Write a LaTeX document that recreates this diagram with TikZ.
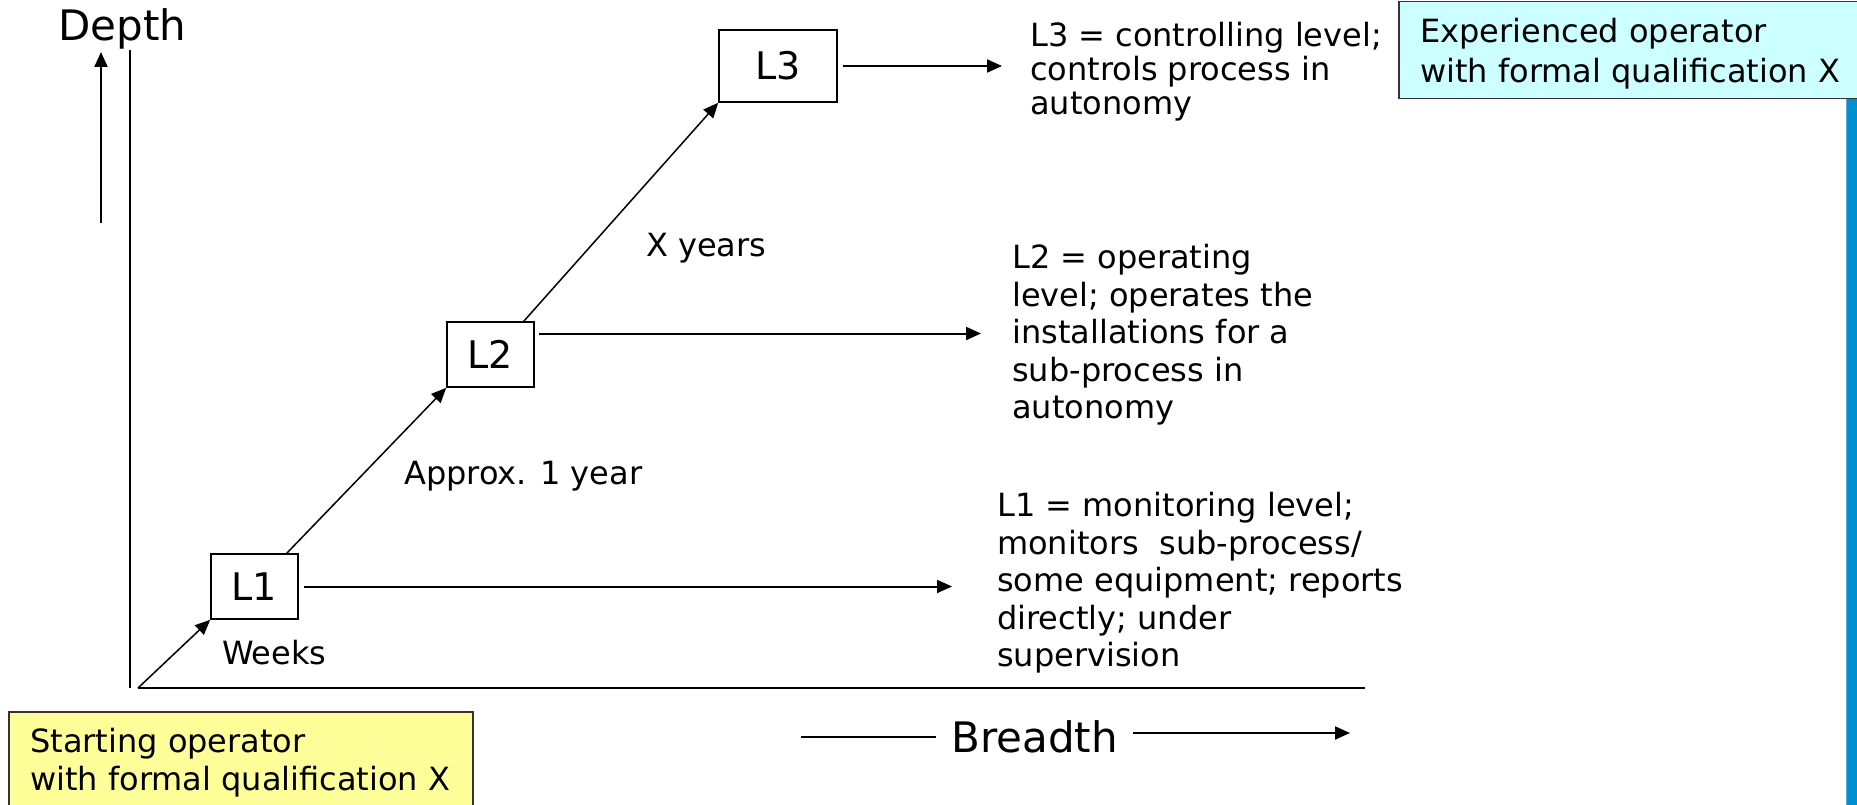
\documentclass[tikz,border=0pt]{standalone}
\usepackage{fontspec}
\setmainfont{DejaVu Sans}
\usetikzlibrary{arrows.meta}
\definecolor{notecyan}{HTML}{CCFFFF}
\definecolor{noteyellow}{HTML}{FFFF99}
\definecolor{sidebar}{HTML}{0090D0}
\definecolor{sideedge}{HTML}{5AB0DC}
\begin{document}
\begin{tikzpicture}[x=1pt,y=-1pt,
  tip/.style={-{Triangle[length=15pt,width=13pt]}},
  levelbox/.style={draw=black,line width=1.6pt,inner sep=0pt,
    font=\fontsize{38}{44}\selectfont},
  desc/.style={anchor=north west,inner sep=0pt,align=left,
    font=\fontsize{32}{37.5}\selectfont},
  lbl/.style={anchor=base west,inner sep=0pt,font=\fontsize{32}{38}\selectfont},
  axislabel/.style={inner sep=0pt,font=\fontsize{42}{50}\selectfont},
  notebox/.style={draw=black!80,line width=1.5pt,inner sep=0pt,anchor=north west},
  levelarrow/.style={tip,line width=2pt},
  stage/.style={tip,line width=1.5pt}
]
\useasboundingbox (0,0) rectangle (1857,805);
\clip (0,0) rectangle (1857,805);

% side bar on the right edge
\fill[sidebar] (1847,97) rectangle (1857,805);
\draw[sideedge,line width=1.5pt] (1846.5,97) -- (1846.5,805);

% axes
\coordinate (dtail) at (101,223);
\coordinate (dhead) at (101,52);
\coordinate (ytop) at (130,50);
\coordinate (yfoot) at (130,688);
\coordinate (O) at (138,688);
\coordinate (xend) at (1365,688);
\node[axislabel,anchor=base west] (depth) at (58,41) {Depth};
\draw[tip,line width=2pt] (dtail) -- (dhead);
\draw[line width=1.5pt] (ytop) -- (yfoot);
\draw[line width=2.5pt] (O) -- (xend);

\node[axislabel,inner xsep=15pt] (breadth) at (1034.5,737) {Breadth};
\coordinate (bleft) at (801,737);
\coordinate (bright) at (1350,733);
\draw[line width=2pt] (bleft) -- (breadth.west);
\draw[levelarrow] (breadth.east |- bright) -- (bright);

% competence levels
\node[levelbox,minimum width=87pt,minimum height=65pt] (L1) at (254.5,586.5) {L1};
\node[levelbox,minimum width=87pt,minimum height=65pt] (L2) at (490.5,354.5) {L2};
\node[levelbox,minimum width=118pt,minimum height=72pt] (L3) at (778,66) {L3};

% level descriptions
\node[desc] (d1) at (997,492) {L1 = monitoring level;\\monitors\ \ sub-process/\\some equipment; reports\\directly; under\\supervision};
\node[desc] (d2) at (1012,244) {L2 = operating\\level; operates the\\installations for a\\sub-process in\\autonomy};
\node[desc,font=\fontsize{32}{34}\selectfont] (d3) at (1030,22) {L3 = controlling level;\\controls process in\\autonomy};

\draw[levelarrow,shorten <=5pt,shorten >=45pt] (L1.east) -- (L1.east -| d1.west);
\draw[levelarrow,shorten <=4pt,shorten >=31pt] ([yshift=21pt]L2.east) -- ([yshift=21pt]L2.east -| d2.west);
\draw[levelarrow,shorten <=5pt,shorten >=28pt] (L3.east) -- (L3.east -| d3.west);

% progression between levels
\draw[stage] (O) -- (L1.south west);
\draw[stage] ([xshift=-12pt]L1.north east) -- (L2.south west);
\draw[stage] ([xshift=-11pt]L2.north east) -- (L3.south west);

\node[lbl] (weeks) at (222,664) {Weeks};
\node[lbl] (approx) at (404,484) {Approx. 1 year};
\node[lbl] (xyears) at (646,256) {X years};

% start and end profiles
\node[notebox,fill=noteyellow,minimum width=464pt,minimum height=110pt] (startbox) at (8,711) {};
\node[desc,font=\fontsize{32}{38}\selectfont] (starttext) at ([xshift=22pt,yshift=-17pt]startbox.north west)
  {Starting operator\\with formal qualification X};
\node[notebox,fill=notecyan,minimum width=480pt,minimum height=97pt] (expbox) at (1398,1) {};
\node[desc,font=\fontsize{32}{40}\selectfont] (exptext) at ([xshift=22pt,yshift=-17pt]expbox.north west)
  {Experienced operator\\with formal qualification X};
\end{tikzpicture}
\end{document}
